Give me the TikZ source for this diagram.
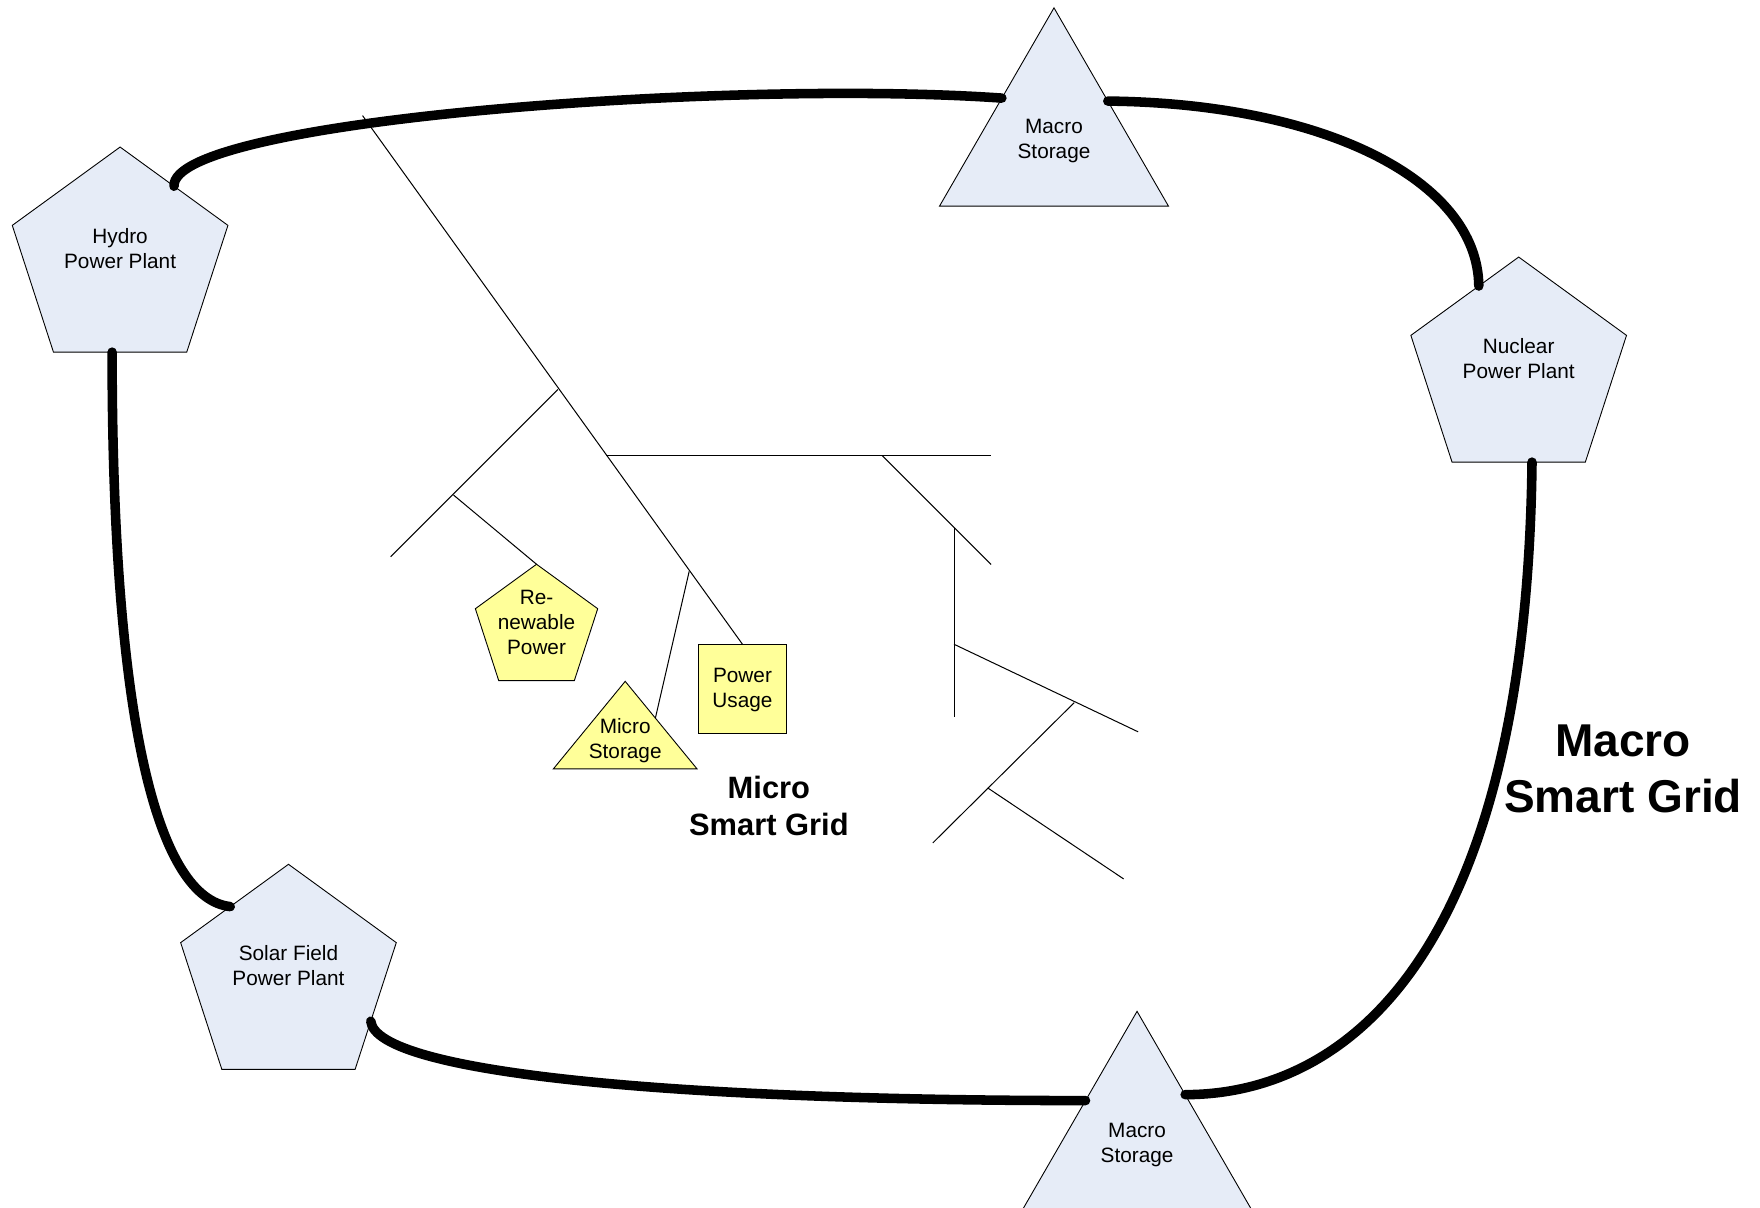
\documentclass[tikz,border=0pt]{standalone}
\usepackage{fontspec}
\setmainfont{Liberation Sans}
\usetikzlibrary{shapes.geometric,calc}
\definecolor{plantblue}{RGB}{230,236,247}
\definecolor{microyellow}{RGB}{255,255,153}

\begin{document}
\begin{tikzpicture}[x=1pt,y=-1pt,
  outlined/.style={draw=black,line width=0.8pt,inner sep=0pt,outer sep=0pt},
  plant/.style={outlined,fill=plantblue,regular polygon,regular polygon sides=5,minimum size=202pt},
  bigstore/.style={outlined,fill=plantblue,regular polygon,regular polygon sides=3,minimum size=235.6pt},
  smallplant/.style={outlined,fill=microyellow,regular polygon,regular polygon sides=5,minimum size=114.6pt},
  usagebox/.style={outlined,fill=microyellow,rectangle,minimum width=79pt,minimum height=79pt},
  lbl/.style={font=\fontsize{18.5}{22}\selectfont,align=center,inner sep=0pt},
  microtitle/.style={font=\bfseries\fontsize{27.5}{33}\selectfont,align=center,inner sep=0pt},
  macrotitle/.style={font=\bfseries\fontsize{41}{50}\selectfont,align=center,inner sep=0pt},
  bus/.style={line width=8.5pt,line cap=round},
  feeder/.style={line width=0.9pt},
]
\clip (0,0) rectangle (1568,1076);

% ---------- macro grid: plants and storage ----------
\node[plant] (hydro) at (107,232) {};
\node[lbl] (hydro-t) at ([yshift=10.5pt]hydro.center) {Hydro\\Power Plant};

\node[plant] (nuclear) at (1353,330) {};
\node[lbl] (nuclear-t) at ([yshift=10.5pt]nuclear.center) {Nuclear\\Power Plant};

\node[plant] (solar) at (257,871) {};
\node[lbl] (solar-t) at ([yshift=10.5pt]solar.center) {Solar Field\\Power Plant};

\node[bigstore] (storeN) at (939,124.8) {};
\node[lbl] (storeN-t) at ([yshift=-1pt]storeN.center) {Macro\\Storage};

\node[bigstore] (storeS) at (1013,1018.8) {};
\node[lbl] (storeS-t) at ([yshift=-1pt]storeS.center) {Macro\\Storage};

% ---------- micro grid: consumers and storage ----------
\node[smallplant] (renew) at (478,560) {};
\node[lbl] (renew-t) at ([yshift=5.5pt]renew.center) {Re-\\newable\\Power};

\node[usagebox] (usage) at (661.5,613.5) {};
\node[lbl] (usage-t) at ([yshift=-1.5pt]usage.center) {Power\\Usage};

\coordinate (ms-top) at (557,607);
\coordinate (ms-right) at (621,685);
\coordinate (ms-left) at (493,685);
\filldraw[fill=microyellow,draw=black,line width=0.8pt] (ms-top) -- (ms-right) -- (ms-left) -- cycle;
\node[lbl] (mstore) at (557,660) {Micro\\Storage};
\coordinate (ms-tap) at ($(ms-top)!0.42!(ms-right)$);

% ---------- micro grid feeders ----------
\coordinate (feed) at (323,103);
\coordinate (ja) at (497,347);
\coordinate (jb) at (540,406);
\coordinate (jc) at (614,509);
\coordinate (jab) at (404,441);
\coordinate (jd) at (786,406);
\coordinate (je) at (850,470);
\coordinate (jf) at (850,574);
\coordinate (jg) at (957,626);
\coordinate (jh) at (880,702);
\coordinate (end-a) at (348,496);
\coordinate (end-b) at (883,406);
\coordinate (end-c) at (883,503);
\coordinate (end-d) at (850,639);
\coordinate (end-f) at (1014,652);
\coordinate (end-g) at (831,751);
\coordinate (end-h) at (1001,783);

\draw[feeder] (feed) -- (usage.north);
\draw[feeder] (ja) -- (end-a);
\draw[feeder] (jab) -- (renew.corner 1);
\draw[feeder] (jb) -- (end-b);
\draw[feeder] (jd) -- (end-c);
\draw[feeder] (je) -- (end-d);
\draw[feeder] (jf) -- (end-f);
\draw[feeder] (jg) -- (end-g);
\draw[feeder] (jh) -- (end-h);
\draw[feeder] (jc) -- (ms-tap);

% ---------- macro grid ring ----------
\coordinate (hydro-ne) at (hydro.side 5);
\coordinate (hydro-s) at ($(hydro.corner 3)!0.44!(hydro.corner 4)$);
\coordinate (storeN-w) at ($(storeN.corner 1)!0.455!(storeN.corner 2)$);
\coordinate (storeN-e) at ($(storeN.corner 1)!0.47!(storeN.corner 3)$);
\coordinate (nuclear-nw) at ($(nuclear.corner 1)!0.37!(nuclear.corner 2)$);
\coordinate (nuclear-s) at ($(nuclear.corner 3)!0.6!(nuclear.corner 4)$);
\coordinate (storeS-e) at ($(storeS.corner 1)!0.42!(storeS.corner 3)$);
\coordinate (storeS-w) at ($(storeS.corner 1)!0.45!(storeS.corner 2)$);
\coordinate (solar-e) at ($(solar.corner 5)!0.62!(solar.corner 4)$);
\coordinate (solar-nw) at ($(solar.corner 1)!0.54!(solar.corner 2)$);

\draw[bus] (hydro-ne) .. controls +(-3,-59) and +(-242,-17) .. (storeN-w);
\draw[bus] (storeN-e) .. controls +(193,2) and +(-1,-94) .. (nuclear-nw);
\draw[bus] (nuclear-s) .. controls +(-5,439) and +(144,0) .. (storeS-e);
\draw[bus] (storeS-w) .. controls +(-368,0) and +(5,46) .. (solar-e);
\draw[bus] (solar-nw) .. controls +(-63,-7) and +(0,337) .. (hydro-s);

% ---------- titles ----------
\node[microtitle] (micro-title) at (685,718) {Micro\\Smart Grid};
\node[macrotitle] (macro-title) at (1446,685) {Macro\\Smart Grid};
\end{tikzpicture}
\end{document}
